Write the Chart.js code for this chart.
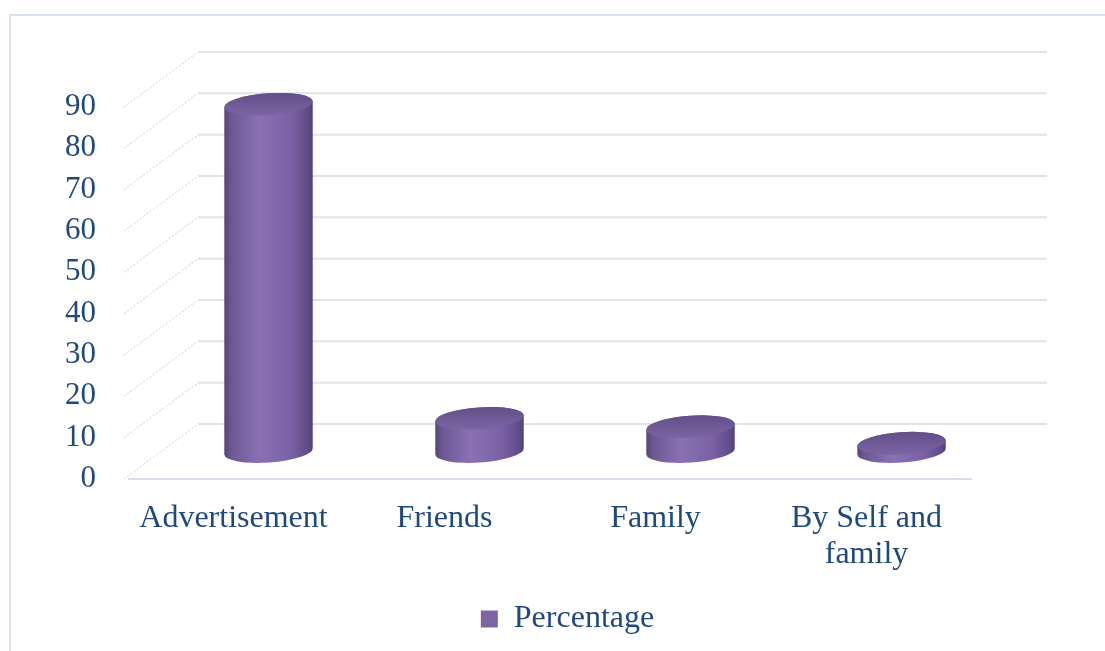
<!DOCTYPE html>
<html>
<head>
<meta charset="utf-8">
<script src="https://cdn.jsdelivr.net/npm/chart.js@4.4.1/dist/chart.umd.min.js"></script>
<style>
  html, body { margin: 0; padding: 0; background: #fff; }
  #wrap { width: 1105px; height: 651px; }
</style>
</head>
<body>
<div id="wrap"><canvas id="mycanvas" width="1105" height="651"></canvas></div>
<script>
// chart data
var categories = ['Advertisement', 'Friends', 'Family', ['By Self and', 'family']];
var percentage = [84, 8, 6, 2];
var yTicks = [0, 10, 20, 30, 40, 50, 60, 70, 80, 90];

var textColor = '#1F497D';
var serif = "'Liberation Serif', 'Times New Roman', serif";

// depth of the 3d box (how far the back wall sits from the front plane)
var depthX = 70;
var depthY = -55;

var box3d = {
    id: 'box3d',
    beforeDraw: function (chart) {
        var ctx = chart.ctx;
        ctx.save();
        ctx.strokeStyle = '#D7E1EE';
        ctx.lineWidth = 2;
        ctx.strokeRect(10, 15, 1200, 800);
        ctx.restore();
    },
    beforeDatasetsDraw: function (chart) {
        var ctx = chart.ctx, a = chart.chartArea, y = chart.scales.y;
        ctx.save();
        yTicks.forEach(function (v) {
            var py = y.getPixelForValue(v);
            // back wall
            ctx.setLineDash([]);
            ctx.strokeStyle = '#E1E1E8';
            ctx.lineWidth = 2;
            ctx.beginPath();
            ctx.moveTo(a.left + depthX, py + depthY);
            ctx.lineTo(a.right + depthX + 5, py + depthY);
            ctx.stroke();
            // side wall
            ctx.setLineDash([2, 2]);
            ctx.strokeStyle = '#C8C8CC';
            ctx.lineWidth = 1;
            ctx.beginPath();
            ctx.moveTo(a.left - 4, py);
            ctx.lineTo(a.left + depthX, py + depthY);
            ctx.stroke();
        });
        // floor front edge
        ctx.setLineDash([]);
        ctx.strokeStyle = '#D8DCEE';
        ctx.lineWidth = 2;
        ctx.beginPath();
        ctx.moveTo(a.left, a.bottom);
        ctx.lineTo(a.right, a.bottom);
        ctx.stroke();
        ctx.restore();
    },
    // bars are replaced by cylinders
    beforeDatasetDraw: function () {
        return false;
    },
    afterDatasetsDraw: function (chart) {
        var ctx = chart.ctx;
        var meta = chart.getDatasetMeta(0);
        meta.data.forEach(function (bar) {
            var cx = bar.x + depthX / 2;
            var top = bar.y + depthY / 2;
            var base = bar.base + depthY / 2;
            var rx = bar.width / 2, ry = 11, rot = -0.07;
            var cs = Math.cos(rot) * rx, sn = Math.sin(rot) * rx;

            ctx.save();
            var g = ctx.createLinearGradient(cx - rx, 0, cx + rx, 0);
            g.addColorStop(0, '#574479');
            g.addColorStop(0.08, '#6D5893');
            g.addColorStop(0.4, '#8A71B4');
            g.addColorStop(0.75, '#7A61A5');
            g.addColorStop(0.95, '#5F4B85');
            g.addColorStop(1, '#52406F');
            ctx.fillStyle = g;
            ctx.beginPath();
            ctx.ellipse(cx, base, rx, ry, rot, 0, Math.PI);
            ctx.lineTo(cx - cs, top - sn);
            ctx.ellipse(cx, top, rx, ry, rot, Math.PI, Math.PI * 2);
            ctx.closePath();
            ctx.fill();

            var tg = ctx.createLinearGradient(0, top - ry, 0, top + ry);
            tg.addColorStop(0, '#644F89');
            tg.addColorStop(1, '#7A64A3');
            ctx.fillStyle = tg;
            ctx.beginPath();
            ctx.ellipse(cx, top, rx, ry, rot, 0, Math.PI * 2);
            ctx.fill();
            ctx.restore();
        });
    }
};

var myChart = new Chart(document.getElementById('mycanvas'), {
    type: 'bar',
    data: {
        labels: categories,
        datasets: [{
            label: 'Percentage',
            data: percentage,
            backgroundColor: '#7E64A6',
            barPercentage: 0.42,
            categoryPercentage: 1
        }]
    },
    options: {
        responsive: false,
        animation: false,
        devicePixelRatio: 1,
        layout: {
            padding: { left: 30, right: 0, top: 107, bottom: 6 }
        },
        plugins: {
            tooltip: { enabled: false },
            legend: {
                position: 'bottom',
                labels: {
                    boxWidth: 17,
                    boxHeight: 17,
                    color: textColor,
                    font: { family: serif, size: 32 },
                    padding: 10
                }
            }
        },
        scales: {
            x: {
                grid: { display: false, drawTicks: false },
                border: { display: false },
                ticks: {
                    color: textColor,
                    font: { family: serif, size: 32, lineHeight: 1.12 },
                    padding: 22,
                    maxRotation: 0
                },
                afterFit: function (scale) { scale.height = 114; }
            },
            y: {
                min: 0,
                max: 90,
                grid: { display: false, drawTicks: false },
                border: { display: false },
                ticks: {
                    stepSize: 10,
                    color: textColor,
                    font: { family: serif, size: 31 },
                    padding: 32
                },
                afterFit: function (scale) { scale.width = 98; }
            },
            // empty axis on the right that leaves room for the back wall
            yRight: {
                position: 'right',
                min: 0,
                max: 90,
                grid: { display: false, drawTicks: false },
                border: { display: false },
                ticks: { display: false },
                afterFit: function (scale) { scale.width = 133; }
            }
        }
    },
    plugins: [box3d]
});
</script>
</body>
</html>
